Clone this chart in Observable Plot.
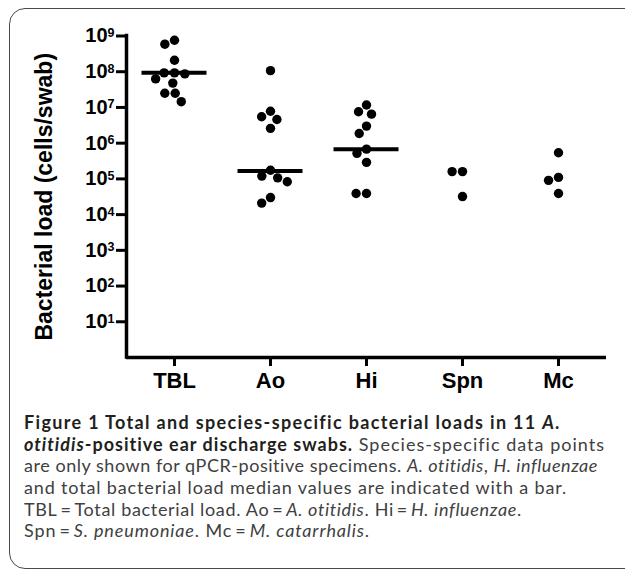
<!DOCTYPE html>
<html><head><meta charset="utf-8">
<script src="https://cdn.jsdelivr.net/npm/d3@7"></script>
<script src="https://cdn.jsdelivr.net/npm/@observablehq/plot@0.6"></script>
<style>
html,body{margin:0;padding:0;background:#fff;}
#wrap{position:relative;width:625px;height:572px;overflow:hidden;}
#box{position:absolute;left:9px;top:8px;width:640px;height:561px;border:1.5px solid #4a4a4a;border-radius:16px;box-sizing:border-box;}
#chart{position:absolute;left:0;top:0;}
#caption{position:absolute;left:24px;top:412px;font-family:Lato,sans-serif;font-size:18px;letter-spacing:0.3px;line-height:21.7px;color:#404040;white-space:nowrap;}
#caption .ln{height:21.7px;}
#caption b{color:#231f20;}
.chart g[aria-label="y-axis label"] text{font-size:23px}
</style></head>
<body>
<div id="wrap">
<div id="box"></div>
<div id="chart"></div>
<div id="caption">
<div class="ln"><span><b>Figure 1 Total and species-specific bacterial loads in 11 <i>A.</i></b></span></div>
<div class="ln"><span><b><i>otitidis</i>-positive ear discharge swabs.</b> Species-specific data points</span></div>
<div class="ln"><span>are only shown for qPCR-positive specimens. <i>A. otitidis</i>, <i>H. influenzae</i></span></div>
<div class="ln"><span>and total bacterial load median values are indicated with a bar.</span></div>
<div class="ln"><span>TBL&#8201;=&#8201;Total bacterial load. Ao&#8201;=&#8201;<i>A. otitidis</i>. Hi&#8201;=&#8201;<i>H. influenzae</i>.</span></div>
<div class="ln"><span>Spn&#8201;=&#8201;<i>S. pneumoniae</i>. Mc&#8201;=&#8201;<i>M. catarrhalis</i>.</span></div>
</div>
</div>
<script>
const categories = ["TBL", "Ao", "Hi", "Spn", "Mc"];
const tblValues = [9.3e7, 9.3e7, 8.7e7, 7.6e8, 5.9e8, 2.1e8, 6.3e7, 4.8e7, 2.5e7, 2.5e7, 1.45e7];
const aoValues = [1.74e5, 1.07e8, 7.8e6, 5.5e6, 4.6e6, 2.6e6, 1.2e5, 1.07e5, 8.3e4, 3.0e4, 2.1e4];
const hiValues = [6.8e5, 1.17e7, 7.6e6, 6.5e6, 3.0e6, 1.86e6, 5.2e5, 2.9e5, 3.9e4, 3.9e4];
const spnValues = [1.6e5, 1.6e5, 3.2e4];
const mcValues = [5.4e5, 1.1e5, 9.1e4, 3.9e4];
const medianValues = [9.3e7, 1.66e5, 6.8e5, null, null];
const yTicks = [1e1, 1e2, 1e3, 1e4, 1e5, 1e6, 1e7, 1e8, 1e9];
const yLabel = "Bacterial load (cells/swab)";

const series = [tblValues, aoValues, hiValues, spnValues, mcValues];
const points = categories.flatMap((c, i) => series[i].map(v => ({cat: c, value: v})));
const medians = categories.map((c, i) => ({cat: c, value: medianValues[i]})).filter(d => d.value != null);

const chart = Plot.plot({
  className: "chart",
  width: 625,
  height: 400,
  marginTop: 35.5,
  marginBottom: 43,
  marginLeft: 125.5,
  marginRight: 18.5,
  style: {fontFamily: "'Liberation Sans', Arial, sans-serif", color: "black", background: "transparent", overflow: "visible"},
  fx: {domain: categories, padding: 0},
  x: {domain: [0, 1], axis: null},
  y: {type: "log", domain: [1, 1e9]},
  marks: [
    Plot.axisY({
      ticks: yTicks,
      tickSize: 10,
      tickPadding: 2,
      strokeWidth: 3,
      fontSize: 20,
      fontWeight: "bold",
      tickFormat: d => "10^" + Math.round(Math.log10(d)),
      label: yLabel,
      labelAnchor: "center",
      labelArrow: "none",
      labelOffset: 91
    }),
    Plot.axisFx({
      anchor: "bottom",
      tickSize: 9,
      tickPadding: 6,
      strokeWidth: 3,
      fontSize: 22,
      fontWeight: "bold",
      label: null
    }),
    Plot.ruleY([1], {strokeWidth: 3.5}),
    Plot.ruleX([0], {fx: () => "TBL", y1: 1, y2: 1e9, strokeWidth: 3.5, strokeLinecap: "square"}),
    Plot.dot(points, Plot.dodgeX("middle", {fx: "cat", y: "value", r: 4.7, padding: 3, fill: "black", stroke: "none"})),
    Plot.ruleY(medians, {fx: "cat", y: "value", insetLeft: 15.5, insetRight: 15.5, strokeWidth: 4})
  ]
});
document.getElementById("chart").appendChild(chart);

// superscript exponents on the y tick labels
chart.querySelectorAll("text").forEach(t => {
  const m = /^10\^(\d+)$/.exec(t.textContent);
  if (!m) return;
  t.textContent = "10";
  const sup = document.createElementNS("http://www.w3.org/2000/svg", "tspan");
  sup.setAttribute("font-size", "12.5");
  sup.setAttribute("dy", "-5.5");
  sup.textContent = m[1];
  t.appendChild(sup);
});

// fit each caption line to the width it has in the reference figure
const captionLineRight = [561, 605, 598, 567, 522, 370];
document.querySelectorAll("#caption .ln > span").forEach((span, i) => {
  const wrap = document.getElementById("wrap").getBoundingClientRect();
  const r = span.getBoundingClientRect();
  const n = span.textContent.length;
  const extra = (captionLineRight[i] - (r.right - wrap.left)) / n;
  span.style.letterSpacing = (0.3 + extra) + "px";
});
</script>
</body></html>
